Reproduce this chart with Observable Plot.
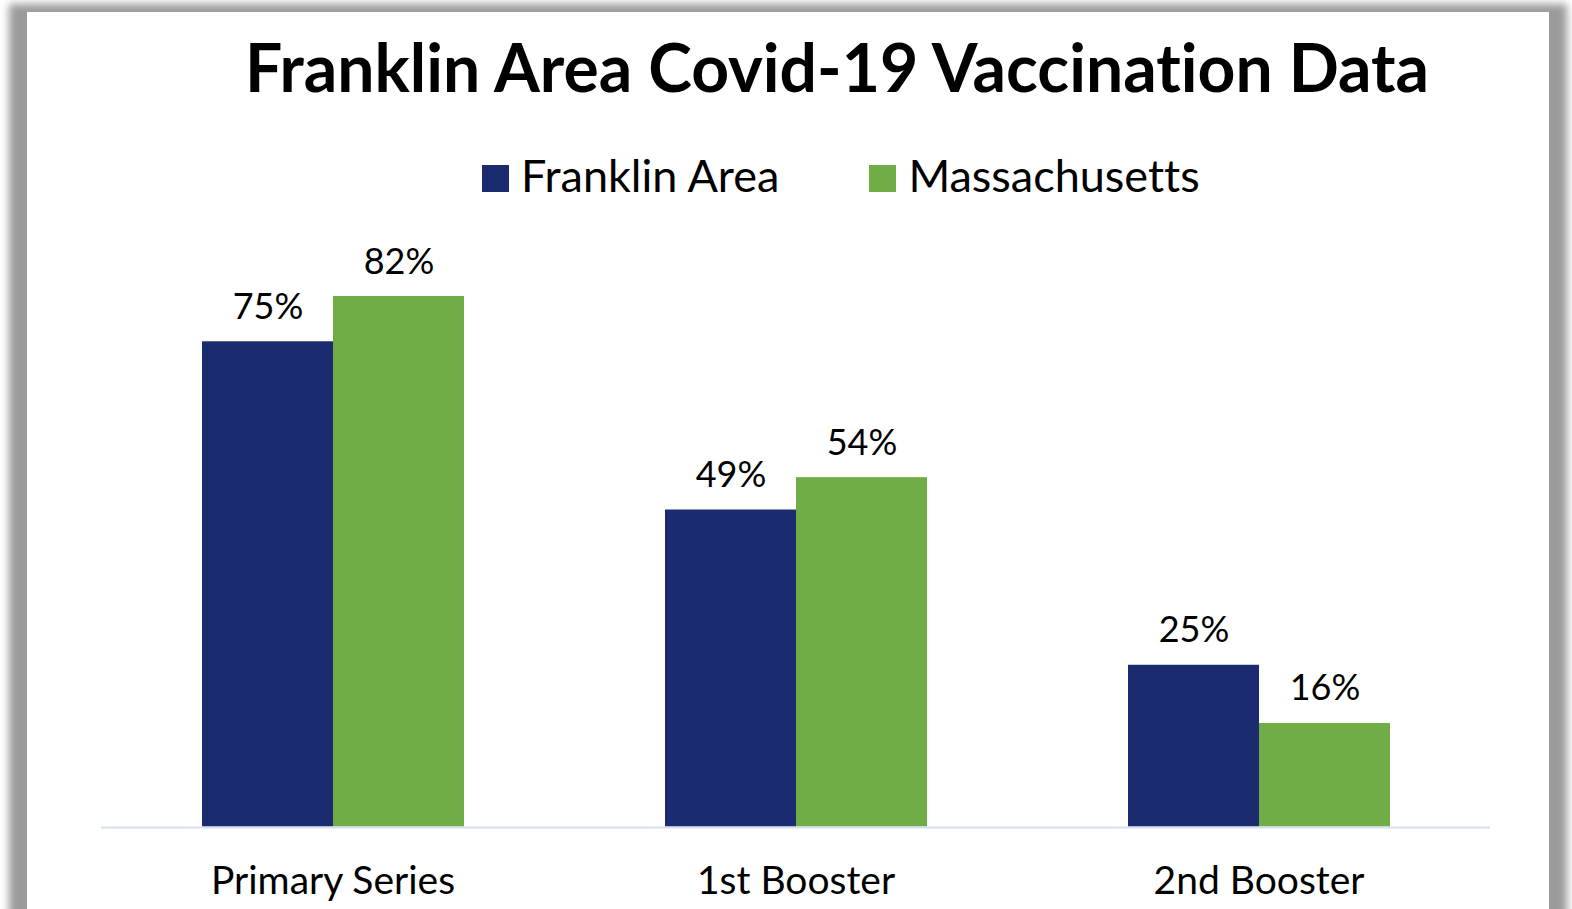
<!DOCTYPE html>
<html>
<head>
<meta charset="utf-8">
<script src="https://cdn.jsdelivr.net/npm/d3@7"></script>
<script src="https://cdn.jsdelivr.net/npm/@observablehq/plot@0.6"></script>
<style>
  html, body { margin: 0; padding: 0; background: #fff; overflow: hidden; }
  body { width: 1572px; height: 909px; position: relative; font-family: Lato, "Open Sans", sans-serif;
         font-variant-ligatures: none; }
  .panel { position: absolute; left: 27px; top: 12px; width: 1522px; height: 1000px; background: #fff;
           box-shadow: 0 10px 8px 18px #9b9b9b; }
  #title { position: absolute; left: 0; top: 33.5px; width: 1674px; text-align: center; font-weight: 700;
           font-size: 66px; color: #000; white-space: nowrap; line-height: 1; }
  #legend { position: absolute; left: 482px; top: 150px; height: 50px; display: flex; align-items: center;
            font-size: 45px; color: #000; white-space: nowrap; }
  .item { display: flex; align-items: center; }
  .sw { width: 27px; height: 27px; margin-right: 12px; position: relative; top: 3.5px; }
  #chart { position: absolute; left: 0; top: 220px; }
  #chart svg { font-variant-ligatures: none; }
</style>
</head>
<body>
<div class="panel"></div>
<div id="title"></div>
<div id="legend"></div>
<div id="chart"></div>
<script>
const titleText = "Franklin Area Covid-19 Vaccination Data";
const categories = ["Primary Series", "1st Booster", "2nd Booster"];
const seriesNames = ["Franklin Area", "Massachusetts"];
const franklinValues = [75, 49, 25];
const massValues = [82, 54, 16];
const seriesColors = ["#1b2b6f", "#70ad47"];

document.getElementById("title").textContent = titleText;

const legend = document.getElementById("legend");
seriesNames.forEach((name, i) => {
  const item = document.createElement("div");
  item.className = "item";
  if (i > 0) item.style.marginLeft = "90px";
  const sw = document.createElement("div");
  sw.className = "sw";
  sw.style.background = seriesColors[i];
  const lab = document.createElement("span");
  lab.textContent = name;
  item.appendChild(sw);
  item.appendChild(lab);
  legend.appendChild(item);
});

const data = [];
categories.forEach((c, i) => {
  data.push({category: c, series: seriesNames[0], value: franklinValues[i]});
  data.push({category: c, series: seriesNames[1], value: massValues[i]});
});

const H = 689;
const baseline = 606.5;
const pxPerUnit = 530.5 / 82;
const yMax = 90;

const chart = Plot.plot({
  width: 1572,
  height: H,
  marginLeft: 100,
  marginRight: 81,
  marginTop: baseline - yMax * pxPerUnit,
  marginBottom: H - baseline,
  style: { fontFamily: "Lato, 'Open Sans', sans-serif", background: "transparent", color: "#000" },
  fx: { domain: categories, padding: 0, label: null },
  x: { domain: seriesNames, paddingInner: 0, paddingOuter: 0.7557, axis: null },
  y: { domain: [0, yMax], axis: null },
  color: { domain: seriesNames, range: seriesColors },
  marks: [
    Plot.barY(data, { fx: "category", x: "series", y: "value", fill: "series" }),
    Plot.ruleY([0], { stroke: "#d6e0f0", strokeWidth: 2, dy: 0.5 }),
    Plot.text(data, { fx: "category", x: "series", y: "value", text: d => d.value + "%",
                      lineAnchor: "bottom", dy: -23, fontSize: 36, fill: "#000" }),
    Plot.axisFx({ anchor: "bottom", tickSize: 0, tickPadding: 39, fontSize: 39, label: null, fill: "#000" })
  ]
});
document.getElementById("chart").appendChild(chart);
</script>
</body>
</html>
